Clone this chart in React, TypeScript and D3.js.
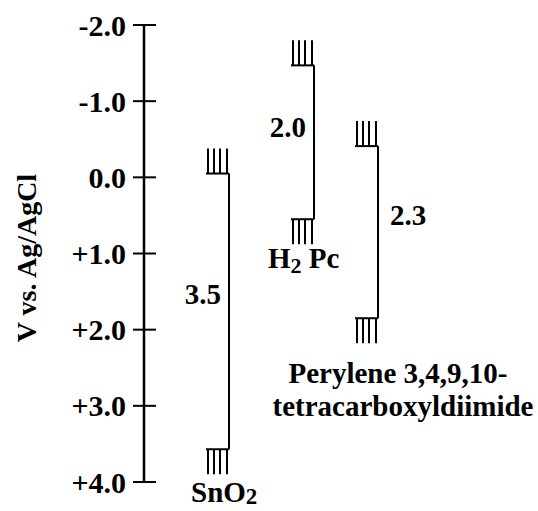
import React from "react";
import * as d3 from "d3";

// ---- data ----
const tickValues = [-2, -1, 0, 1, 2, 3, 4];
const tickLabels = ["-2.0", "-1.0", "0.0", "+1.0", "+2.0", "+3.0", "+4.0"];
const materials = ["SnO2", "H2Pc", "Perylene"];
const conductionBand = [-0.05, -1.47, -0.41];
const valenceBand = [3.57, 0.55, 1.85];
const gapLabels = ["3.5", "2.0", "2.3"];
const axisTitle = "V vs. Ag/AgCl";

const W = 538;
const H = 511;
const FONT = "'Liberation Serif', 'Times New Roman', serif";

export default function App() {
  const y = d3.scaleLinear().domain([-2, 4]).range([25, 482]);
  const x = d3.scaleOrdinal<string, number>().domain(materials).range([229, 314, 378]);
  const axisX = 144;
  const hatchOffsets = [-21, -15, -9, -2];
  const hatchLen = 25;
  const shelf = 23;
  const fs = 29;

  return (
    <svg
      width={W}
      height={H}
      style={{ position: "absolute", left: 0, top: 0, background: "#fff" }}
      fontFamily={FONT}
      fontWeight="bold"
    >
      <rect width={W} height={H} fill="#fff" />
      {/* axis */}
      <line x1={axisX} x2={axisX} y1={y(-2)} y2={y(4)} stroke="#000" strokeWidth={2.5} />
      {tickValues.map((v, i) => (
        <g key={v}>
          <line x1={axisX - 11} x2={axisX + 12} y1={y(v)} y2={y(v)} stroke="#000" strokeWidth={2} />
          <text x={126} y={y(v)} dy="0.35em" textAnchor="end" fontSize={30} fill="#000">
            {tickLabels[i]}
          </text>
        </g>
      ))}
      <text
        transform={`translate(36, 258) rotate(-90)`}
        textAnchor="middle"
        fontSize={28}
        fill="#000"
      >
        {axisTitle}
      </text>

      {/* levels */}
      {materials.map((m, i) => {
        const cx = x(m);
        const yt = y(conductionBand[i]);
        const yb = y(valenceBand[i]);
        return (
          <g key={m} stroke="#000" strokeWidth={2}>
            <line x1={cx} x2={cx} y1={yt} y2={yb} />
            <line x1={cx - shelf} x2={cx} y1={yt} y2={yt} />
            <line x1={cx - shelf} x2={cx} y1={yb} y2={yb} />
            {hatchOffsets.map((o) => (
              <g key={o}>
                <line x1={cx + o} x2={cx + o} y1={yt} y2={yt - hatchLen} />
                <line x1={cx + o} x2={cx + o} y1={yb} y2={yb + hatchLen} />
              </g>
            ))}
          </g>
        );
      })}

      {/* gap labels */}
      <text x={x("SnO2") - 8} y={(y(conductionBand[0]) + y(valenceBand[0])) / 2 - 18} dy="0.35em" textAnchor="end" fontSize={fs}>
        {gapLabels[0]}
      </text>
      <text x={x("H2Pc") - 8} y={(y(conductionBand[1]) + y(valenceBand[1])) / 2 - 15} dy="0.35em" textAnchor="end" fontSize={fs}>
        {gapLabels[1]}
      </text>
      <text x={x("Perylene") + 12} y={(y(conductionBand[2]) + y(valenceBand[2])) / 2 - 17} dy="0.35em" textAnchor="start" fontSize={fs}>
        {gapLabels[2]}
      </text>

      {/* material labels */}
      <text x={191} y={y(valenceBand[0]) + hatchLen + 28} fontSize={fs}>
        SnO<tspan fontSize={23} dy={2}>2</tspan>
      </text>
      <text x={268} y={y(valenceBand[1]) + hatchLen + 24} fontSize={fs}>
        H<tspan fontSize={22} dy={5}>2</tspan>
        <tspan dy={-5}> Pc</tspan>
      </text>
      <text x={398} y={y(valenceBand[2]) + hatchLen + 40} textAnchor="middle" fontSize={fs}>
        Perylene 3,4,9,10-
      </text>
      <text x={403} y={y(valenceBand[2]) + hatchLen + 73} textAnchor="middle" fontSize={fs}>
        tetracarboxyldiimide
      </text>
    </svg>
  );
}
